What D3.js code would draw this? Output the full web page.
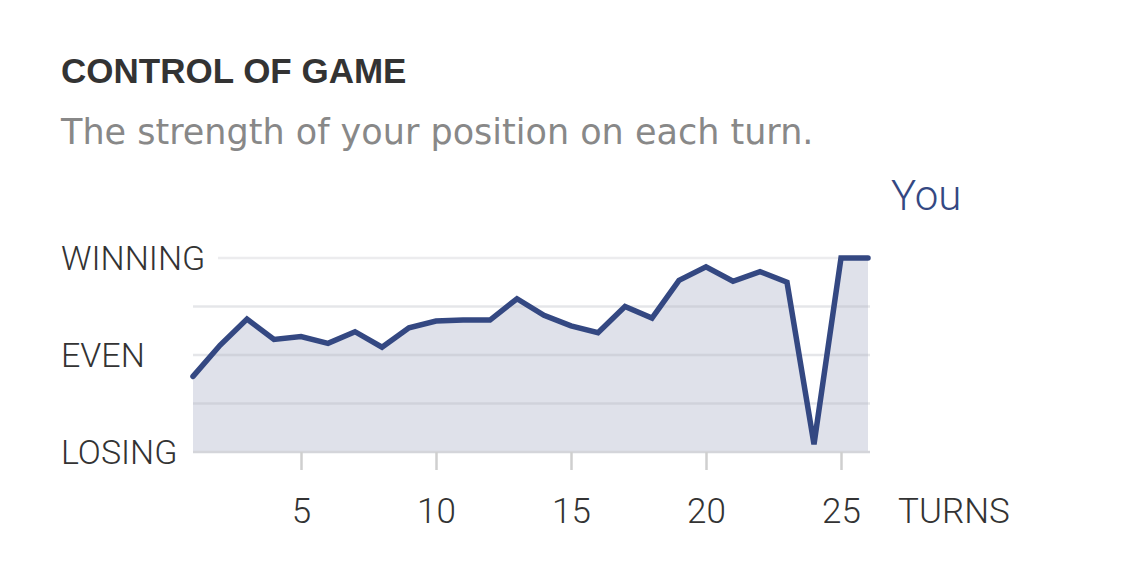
<!DOCTYPE html>
<html>
<head>
<meta charset="utf-8">
<script src="https://cdn.jsdelivr.net/npm/d3@7"></script>
<style>
  html, body { margin: 0; padding: 0; background: #fff; }
  svg { display: block; }
</style>
</head>
<body>
<svg id="chart" width="1125" height="570"></svg>
<script>
// ---- data ----
const turns = d3.range(1, 27);
const strength = [-0.22, 0.10, 0.37, 0.16, 0.19, 0.12, 0.24, 0.08, 0.28, 0.35,
                  0.36, 0.36, 0.58, 0.41, 0.30, 0.23, 0.50, 0.38, 0.77, 0.91,
                  0.76, 0.86, 0.75, -0.92, 1.00, 1.00];
const xTicks = [5, 10, 15, 20, 25];
const yLabelValues = [1, 0, -1];
const yLabels = ["WINNING", "EVEN", "LOSING"];
const gridValues = [1, 0.5, 0, -0.5];
const title = "CONTROL OF GAME";
const subtitle = "The strength of your position on each turn.";
const seriesName = "You";
const xAxisName = "TURNS";

const data = turns.map((t, i) => ({ t, v: strength[i] }));

const svg = d3.select("#chart");
const x = d3.scaleLinear().domain([1, 26]).range([193, 868]);
const y = d3.scaleLinear().domain([-1, 1]).range([452, 258]);

const labelFont = "Roboto, sans-serif";

// title & subtitle
svg.append("text").attr("x", 61).attr("y", 83)
  .attr("font-family", "'Liberation Sans', Arial, sans-serif")
  .attr("font-weight", "bold").attr("font-size", 35)
  .attr("fill", "#333").text(title);
svg.append("text").attr("x", 61).attr("y", 144)
  .attr("font-family", "'DejaVu Sans', sans-serif")
  .attr("font-size", 35)
  .attr("fill", "#888").text(subtitle);

// area
const area = d3.area().x(d => x(d.t)).y0(y(-1)).y1(d => y(d.v));
svg.append("path").datum(data).attr("d", area).attr("fill", "#dfe1ea");

// gridlines
svg.append("g").selectAll("line").data(gridValues).join("line")
  .attr("x1", d => d === 1 ? 218 : x(1))
  .attr("x2", x(26) + 2)
  .attr("y1", d => y(d)).attr("y2", d => y(d))
  .attr("stroke", d => d === 1 ? "#ececee" : "rgba(180,182,192,0.35)")
  .attr("stroke-width", 2.5);

// x axis
const xAxis = d3.axisBottom(x).tickValues(xTicks).tickSize(18).tickPadding(28);
const gx = svg.append("g").attr("transform", `translate(0,${y(-1)})`).call(xAxis);
gx.select(".domain").attr("d", `M${x(1)},0H${x(26) + 2}`).attr("stroke", "#d4d5da").attr("stroke-width", 2.5);
gx.selectAll(".tick line").attr("stroke", "#cfcfcf").attr("stroke-width", 2.5);
gx.selectAll(".tick text").attr("font-family", labelFont).attr("font-weight", 300)
  .attr("font-size", 35).attr("fill", "#333").attr("dy", "0.71em");
svg.append("text").attr("x", 898).attr("y", 523)
  .attr("font-family", labelFont).attr("font-weight", 300).attr("font-size", 35)
  .attr("fill", "#333").text(xAxisName);

// y labels
svg.append("g").selectAll("text").data(yLabelValues).join("text")
  .attr("x", 61).attr("y", d => y(d)).attr("dy", "0.36em")
  .attr("font-family", labelFont).attr("font-weight", 300).attr("font-size", 34)
  .attr("fill", "#333")
  .text((d, i) => yLabels[i]);

// line
const line = d3.line().x(d => x(d.t)).y(d => y(d.v));
svg.append("path").datum(data).attr("d", line)
  .attr("fill", "none").attr("stroke", "#344882").attr("stroke-width", 5.5)
  .attr("stroke-linejoin", "miter").attr("stroke-linecap", "round");

// series label
svg.append("text").attr("x", 891).attr("y", 210)
  .attr("font-family", labelFont).attr("font-weight", 300).attr("font-size", 42)
  .attr("fill", "#344882").text(seriesName);
</script>
</body>
</html>
